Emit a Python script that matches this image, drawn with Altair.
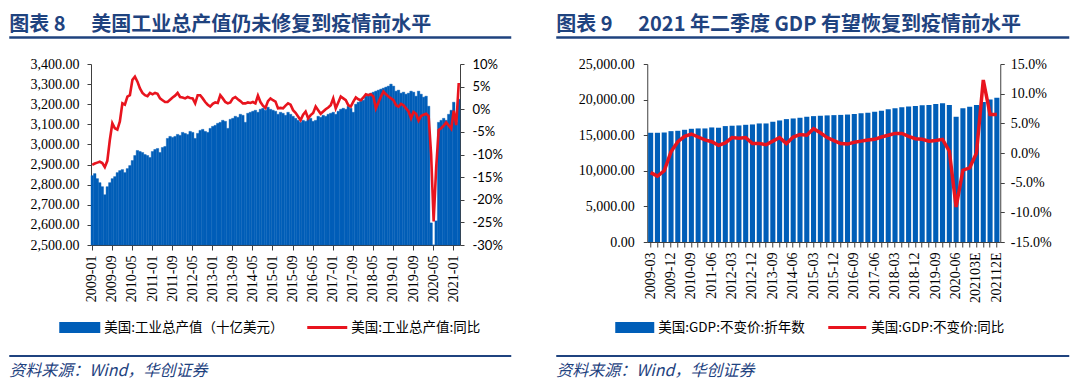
import json
import altair as alt
import pandas as pd

# ---------------- data ----------------
months = [f"{y}-{m:02d}" for y in range(2009, 2022) for m in range(1, 13)][:147]

ip_2009 = [2845, 2855, 2830, 2810, 2790, 2750, 2790, 2810, 2830, 2840, 2860, 2870]
ip_2010 = [2875, 2860, 2880, 2895, 2920, 2945, 2970, 2965, 2960, 2950, 2945, 2935]
ip_2011 = [2965, 2975, 2980, 2960, 2985, 2990, 3030, 3040, 3035, 3040, 3050, 3045]
ip_2012 = [3060, 3055, 3050, 3065, 3060, 3030, 3055, 3070, 3075, 3065, 3060, 3080]
ip_2013 = [3090, 3095, 3105, 3110, 3120, 3115, 3080, 3125, 3130, 3140, 3135, 3150]
ip_2014 = [3145, 3110, 3155, 3160, 3165, 3170, 3160, 3175, 3180, 3170, 3185, 3175]
ip_2015 = [3170, 3165, 3150, 3160, 3155, 3145, 3160, 3150, 3140, 3130, 3120, 3110]
ip_2016 = [3120, 3115, 3125, 3130, 3115, 3120, 3140, 3135, 3145, 3140, 3150, 3155]
ip_2017 = [3160, 3150, 3165, 3175, 3180, 3175, 3190, 3180, 3160, 3200, 3210, 3215]
ip_2018 = [3220, 3240, 3250, 3255, 3260, 3265, 3270, 3275, 3280, 3285, 3290, 3300]
ip_2019 = [3290, 3265, 3270, 3255, 3260, 3250, 3255, 3265, 3260, 3240, 3265, 3250]
ip_2020 = [3235, 3240, 3190, 2610, 2500, 2620, 3110, 3120, 3130, 3120, 3150, 3170]
ip_2021 = [3210, 3110, 3225]
ip_level = (ip_2009 + ip_2010 + ip_2011 + ip_2012 + ip_2013 + ip_2014 + ip_2015
            + ip_2016 + ip_2017 + ip_2018 + ip_2019 + ip_2020 + ip_2021)

yoy_2009 = [-12.3, -12.0, -11.8, -11.6, -11.9, -12.8, -11.4, -6.8, -3.1, -4.2, -4.5, -2.7]
yoy_2010 = [1.3, 1.0, 2.8, 3.1, 6.5, 7.2, 6.1, 4.6, 3.6, 3.1, 2.9, 3.6]
yoy_2011 = [3.3, 3.6, 3.4, 2.4, 2.0, 1.6, 1.6, 2.1, 2.6, 3.0, 3.6, 2.7]
yoy_2012 = [2.6, 2.4, 2.7, 2.5, 2.4, 1.3, 3.1, 3.1, 2.4, 1.6, 1.0, 0.6]
yoy_2013 = [1.2, 1.5, 1.4, 3.1, 2.4, 1.6, 1.3, 1.5, 2.4, 2.7, 2.2, 1.8]
yoy_2014 = [1.3, 1.3, 1.5, 1.4, 1.6, 1.3, 3.0, 1.6, 0.8, 0.3, 1.8, 2.4]
yoy_2015 = [2.0, 1.7, 0.2, 0.3, 0.2, 0.8, 1.3, 1.0, -0.2, -0.8, -1.6, -2.4]
yoy_2016 = [-1.2, -0.5, -2.0, -1.3, -0.8, 0.6, -0.2, -1.0, -0.5, 0.0, 0.4, 0.9]
yoy_2017 = [2.4, 0.2, 1.5, 2.8, 2.4, 2.0, 0.9, 0.6, 1.7, 2.6, 2.2, 2.0]
yoy_2018 = [2.6, 3.3, 3.1, 3.3, 2.8, 0.2, 1.5, 2.8, 3.9, 3.3, 2.8, 2.4]
yoy_2019 = [2.0, 0.9, 0.6, 1.2, 0.9, 0.2, -0.5, -2.0, -0.6, -1.0, -2.5, -1.5]
yoy_2020 = [-1.2, -1.0, -1.5, -10.0, -24.8, -13.0, -4.6, -4.2, -3.6, -2.9, -3.6, -4.3]
yoy_2021 = [-0.3, -3.5, 5.8]
ip_yoy = (yoy_2009 + yoy_2010 + yoy_2011 + yoy_2012 + yoy_2013 + yoy_2014 + yoy_2015
          + yoy_2016 + yoy_2017 + yoy_2018 + yoy_2019 + yoy_2020 + yoy_2021)

quarters = ([f"{y}-{m:02d}" for y in range(2009, 2021) for m in (3, 6, 9, 12)]
            + ["202103E", "202106E", "202109E", "202112E"])
gdp_level = [15340, 15340, 15380, 15570, 15620, 15760, 15900, 15950, 15950, 16090,
             16050, 16280, 16330, 16370, 16460, 16510, 16650, 16650, 16890, 17070,
             17260, 17350, 17450, 17590, 17680, 17730, 17780, 17820, 17850, 17900,
             17980, 18075, 18170, 18310, 18450, 18640, 18780, 18920, 19015, 19110,
             19200, 19250, 19390, 19470, 19230, 17590, 18800, 19000, 19230, 19650,
             20030, 20260]
gdp_yoy = [-3.3, -3.9, -3.0, 0.2, 1.9, 2.8, 3.2, 2.7, 2.2, 1.9,
           1.3, 1.7, 2.6, 2.5, 2.6, 1.6, 1.6, 1.4, 2.0, 2.6,
           1.6, 2.7, 3.1, 3.0, 4.1, 3.4, 2.6, 2.1, 1.6, 1.5,
           1.8, 2.0, 2.2, 2.3, 2.7, 3.0, 3.3, 3.3, 2.8, 2.4,
           2.3, 2.0, 2.1, 2.3, 0.3, -9.1, -2.9, -2.5, 0.0, 12.3,
           6.5, 6.5]

left_ticks = months[::8]
right_ticks = quarters[::3]

title1_no = "图表 8"
title1 = "美国工业总产值仍未修复到疫情前水平"
title2_no = "图表 9"
title2 = "2021 年二季度 GDP 有望恢复到疫情前水平"
legend1 = ["美国:工业总产值（十亿美元）", "美国:工业总产值:同比"]
legend2 = ["美国:GDP:不变价:折年数", "美国:GDP:不变价:同比"]
source = "资料来源：Wind，华创证券"

# ---------------- style ----------------
NAVY = "#1F437F"
BLUE = "#005EB8"
RED = "#E8141E"
AX = "#404040"
SERIF = "Liberation Serif"
CJK = "Noto Sans CJK SC"

TITLE_Y = -39.5
SRC_Y = 307
SRC_SIZE = 16

xkw = dict(title=None, labelAngle=-90, labelAlign="right", labelBaseline="middle",
           labelFont=SERIF, labelFontSize=14, labelColor="black", domainColor=AX,
           tickColor=AX, tickSize=5, labelPadding=5, grid=False, labelOverlap=False)
ykw = dict(title=None, labelColor="black", domainColor=AX, tickColor=AX,
           tickSize=4, grid=False, labelOverlap=False)


def txt(s, x, y, size, color="black", weight="normal", style="normal"):
    return alt.Chart(pd.DataFrame({"t": [s]})).mark_text(
        align="left", baseline="middle", font=CJK, fontSize=size,
        fontWeight=weight, fontStyle=style, color=color
    ).encode(x=alt.value(x), y=alt.value(y), text="t:N")


def hline(x1, x2, y, color, width, opacity=1):
    return alt.Chart(pd.DataFrame({"a": [0]})).mark_rule(
        color=color, strokeWidth=width, strokeOpacity=opacity, strokeCap="butt"
    ).encode(x=alt.value(x1), x2=alt.value(x2), y=alt.value(y))


def box(x1, x2, y1, y2, color):
    return alt.Chart(pd.DataFrame({"a": [0]})).mark_rect(color=color).encode(
        x=alt.value(x1), x2=alt.value(x2), y=alt.value(y1), y2=alt.value(y2))


# ---------------- left panel ----------------
W1, H1 = 369, 181
df1 = pd.DataFrame({"month": months, "level": ip_level, "yoy": ip_yoy})
bars1 = alt.Chart(df1).mark_bar(color=BLUE, stroke=BLUE, strokeWidth=0.4).encode(
    x=alt.X("month:O", sort=months,
            scale=alt.Scale(paddingInner=0, paddingOuter=0),
            axis=alt.Axis(values=left_ticks, **xkw)),
    y=alt.Y("level:Q",
            scale=alt.Scale(domain=[2500, 3400], zero=False, nice=False, clamp=True),
            axis=alt.Axis(orient="left", values=list(range(2500, 3401, 100)),
                          format=",.2f", labelFont=SERIF, labelFontSize=14,
                          labelPadding=8, **ykw)),
)
line1 = alt.Chart(df1).mark_line(color=RED, strokeWidth=2.6).encode(
    x=alt.X("month:O", sort=months),
    y=alt.Y("yoy:Q", scale=alt.Scale(domain=[-30, 10], nice=False),
            axis=alt.Axis(orient="right", values=list(range(-30, 11, 5)),
                          labelExpr="datum.value + '%'", labelFont="Lato",
                          labelFontSize=13, labelPadding=8, **ykw)),
)
deco1 = [
    hline(-81.75, -81, -56, "white", 1, 0),      # invisible top-left anchor
    hline(-81.75, -81, 317, "white", 1, 0),      # invisible bottom anchor
    txt(title1_no, -81.75, TITLE_Y, 20, NAVY, "bold"),
    txt(title1, 0.25, TITLE_Y, 20, NAVY, "bold"),
    hline(-81.75, 420.25, -26.5, NAVY, 2.5),
    box(-31.75, 9.25, 258, 269, BLUE),
    txt(legend1[0], 13.25, 263.5, 13.5),
    hline(216.25, 256.25, 263.5, RED, 3),
    txt(legend1[1], 260.25, 263.5, 13.5),
    hline(-81.75, 420.25, 292, NAVY, 2),
    txt(source, -81.75, SRC_Y, SRC_SIZE, NAVY, "normal", "italic"),
]
left = alt.layer(bars1, line1, *deco1).resolve_scale(y="independent").properties(
    width=W1, height=H1)

# ---------------- right panel ----------------
W2, H2 = 353, 178
df2 = pd.DataFrame({"q": quarters, "level": gdp_level, "yoy": gdp_yoy})
label_expr2 = ("indexof(" + json.dumps(right_ticks, ensure_ascii=False)
               + ", datum.value) >= 0 ? datum.value : ''")
bars2 = alt.Chart(df2).mark_bar(color=BLUE).encode(
    x=alt.X("q:O", sort=quarters,
            scale=alt.Scale(paddingInner=0.25, paddingOuter=0.125),
            axis=alt.Axis(values=quarters, labelExpr=label_expr2, **xkw)),
    y=alt.Y("level:Q", scale=alt.Scale(domain=[0, 25000], nice=False),
            axis=alt.Axis(orient="left", values=list(range(0, 25001, 5000)),
                          format=",.2f", labelFont=SERIF, labelFontSize=14,
                          labelPadding=9, **ykw)),
)
line2 = alt.Chart(df2).mark_line(color=RED, strokeWidth=3.5).encode(
    x=alt.X("q:O", sort=quarters),
    y=alt.Y("yoy:Q", scale=alt.Scale(domain=[-15, 15], nice=False),
            axis=alt.Axis(orient="right", values=list(range(-15, 16, 5)),
                          labelExpr="(datum.value < 0 ? '-' : '') + format(abs(datum.value), '.1f') + '%'",
                          labelFont=SERIF, labelFontSize=14, labelPadding=6, **ykw)),
)
deco2 = [
    txt(title2_no, -91, TITLE_Y, 20, NAVY, "bold"),
    txt(title2, -9, TITLE_Y, 20, NAVY, "bold"),
    hline(-91, 422, -26.5, NAVY, 2.5),
    box(-32, 7, 258, 269, BLUE),
    txt(legend2[0], 11, 263.5, 13.5),
    hline(181, 219, 263.5, RED, 3),
    txt(legend2[1], 224, 263.5, 13.5),
    hline(-91, 422, 292, NAVY, 2),
    txt(source, -91, SRC_Y, SRC_SIZE, NAVY, "normal", "italic"),
]
right = alt.layer(bars2, line2, *deco2).resolve_scale(y="independent").properties(
    width=W2, height=H2)

chart = alt.hconcat(left, right, spacing=187.25, bounds="flush").properties(
    padding=0).configure_view(stroke=None)

chart.save("out.html", embed_options={"renderer": "svg", "actions": False})
